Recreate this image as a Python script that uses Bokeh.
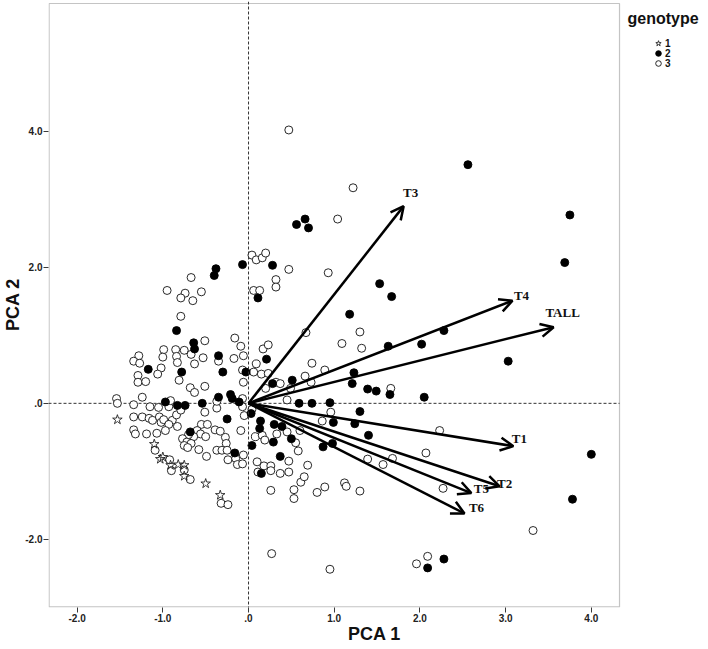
from bokeh.plotting import figure
from bokeh.models import (ColumnDataSource, Range1d, FixedTicker, CustomJSTickFormatter,
                          Span, Arrow, OpenHead, Legend, LegendItem, BoxAnnotation, Label)
from bokeh.core.properties import value
from bokeh.embed import file_html
from bokeh.resources import INLINE

# ---------------- data ----------------
x_ticks = [-2.0, -1.0, 0.0, 1.0, 2.0, 3.0, 4.0]
y_ticks = [-2.0, 0.0, 2.0, 4.0]
genotypes = ["1", "2", "3"]

g1_x = [-1.53, -1.10, -1.03, -1.00, -0.91, -0.82, -0.75, -0.75, -0.50, -0.33]
g1_y = [-0.24, -0.60, -0.82, -0.79, -0.91, -0.90, -0.91, -1.07, -1.18, -1.35]

g2_x = [-0.38, -0.40, -0.07, 0.11, -0.84, -0.64, -0.63, -0.35, -1.17, -0.78, -0.30, -0.03,
        -0.97, -0.83, -0.74, -0.54, -0.35, -0.21, -0.19, -0.11, -0.25, -0.68, 0.04, -0.16,
        0.56, 0.66, 0.70, 0.28, 1.53, 1.67, 2.56, 3.75, 3.69, 2.28, 2.02, 3.03, 2.05, 4.00,
        3.78, 2.28, 2.09, 1.18, 1.63, 0.21, 1.23, 1.21, 0.51, 0.28, 1.39, 1.49, 1.65, 0.59,
        0.74, 0.95, 1.30, 0.03, 0.14, 0.13, 0.30, 0.39, 0.99, 1.24, 1.40, 0.50, 0.29, 0.87,
        0.98, 0.37, 0.15]
g2_y = [1.98, 1.88, 2.04, 1.55, 1.07, 0.89, 0.80, 0.70, 0.50, 0.46, 0.46, 0.46,
        0.02, -0.03, -0.03, 0.00, 0.09, 0.13, 0.07, 0.02, -0.23, -0.42, -0.62, -0.73,
        2.63, 2.71, 2.58, 2.03, 1.76, 1.57, 3.51, 2.77, 2.07, 1.07, 0.87, 0.62, 0.09, -0.75,
        -1.41, -2.29, -2.42, 1.31, 0.84, 0.65, 0.45, 0.29, 0.34, 0.29, 0.21, 0.18, 0.13, 0.00,
        0.00, 0.01, -0.12, -0.15, -0.26, -0.37, -0.31, -0.34, -0.28, -0.30, -0.47, -0.52, -0.57, -0.64,
        -0.59, -0.78, -1.03]

g3_x = [0.04, 0.09, -0.67, -0.95, -0.74, -0.79, -0.65, -0.55, 0.06, -0.79, -0.51, -0.16,
        -0.09, -0.99, -1.00, -0.85, -0.75, -0.67, -0.84, -0.83, -0.63, -0.53, -0.17, -0.06,
        -1.28, -1.34, -1.27, -0.35, -1.02, -1.29, -1.29, -1.20, -1.06, -0.81, -0.68, -0.63,
        -0.51, -0.06, -1.54, -1.53, -1.34, -1.24, -1.15, -1.05, -0.93, -0.91, -0.51, -0.37,
        -0.37, -1.34, -1.24, -1.16, -1.12, -1.04, -1.02, -0.99, -0.89, -0.84, -0.79, -0.93,
        -0.83, -0.97, -1.34, -1.32, -1.19, -1.07, -0.55, -0.48, -0.39, -0.33, -0.60, -0.56,
        -0.50, -0.64, -0.70, -0.77, -0.72, -0.67, -0.58, -0.75, -0.71, -0.27, -0.26, -0.37,
        -0.31, -0.25, -0.09, -1.09, -0.49, -0.06, -0.24, -0.15, -0.13, -0.92, -0.90, -0.75,
        -0.68, -0.32, -0.24, 0.10, 0.11, 0.47, 1.22, 1.04, 0.16, 0.20, 0.47, 0.93,
        0.32, 0.32, 0.13, 2.23, 2.07, 2.27, 3.32, 2.09, 1.96, 0.67, 1.30, 1.09,
        1.32, 0.17, 0.23, 0.09, 0.74, -0.07, 0.06, 0.15, 0.23, 0.66, 0.89, 0.32,
        0.37, 0.73, 0.20, 0.49, 1.66, 0.45, -0.07, -0.07, 0.04, 0.96, 0.86, -0.05,
        0.08, 0.16, 0.19, 0.33, 0.45, 0.60, 0.55, 0.58, -0.07, 0.18, 0.26, 0.26,
        0.47, 0.69, 0.37, 0.47, 0.61, 0.65, 0.26, 0.53, 0.80, 0.89, 1.12, 1.14,
        1.30, 1.39, 1.57, 1.68, 0.53, 0.27, 0.95]
g3_y = [2.18, 2.11, 1.85, 1.66, 1.62, 1.55, 1.51, 1.64, 1.66, 1.28, 0.92, 0.96,
        0.84, 0.79, 0.68, 0.79, 0.78, 0.72, 0.69, 0.60, 0.58, 0.67, 0.66, 0.70,
        0.70, 0.62, 0.59, 0.62, 0.52, 0.41, 0.31, 0.32, 0.43, 0.34, 0.23, 0.16,
        0.25, 0.31, 0.07, 0.00, -0.02, 0.09, -0.05, -0.06, -0.05, 0.04, -0.13, -0.07,
        0.03, -0.20, -0.20, -0.22, -0.25, -0.20, -0.28, -0.24, -0.25, -0.17, -0.10, -0.31,
        -0.34, -0.40, -0.39, -0.45, -0.45, -0.44, -0.31, -0.31, -0.39, -0.41, -0.40, -0.45,
        -0.49, -0.49, -0.46, -0.52, -0.57, -0.59, -0.68, -0.62, -0.65, -0.50, -0.59, -0.69,
        -0.69, -0.69, -0.40, -0.69, -0.78, -0.76, -0.83, -0.81, -0.90, -0.83, -0.99, -0.98,
        -1.12, -1.47, -1.49, -0.86, -1.01, 4.02, 3.17, 2.71, 2.14, 2.21, 1.97, 1.92,
        1.82, 1.71, 1.66, -0.40, -0.73, -1.25, -1.87, -2.25, -2.36, 1.04, 1.05, 0.88,
        0.81, 0.80, 0.86, 0.58, 0.59, 0.49, 0.46, 0.43, 0.44, 0.40, 0.49, 0.31,
        0.29, 0.31, 0.22, 0.22, 0.22, 0.05, 0.07, -0.05, -0.09, -0.13, -0.26, -0.18,
        -0.49, -0.47, -0.54, -0.45, -0.42, -0.40, -0.58, -0.70, -0.89, -0.92, -0.92, -0.99,
        -0.85, -0.91, -1.03, -1.01, -1.16, -1.08, -1.28, -1.27, -1.31, -1.23, -1.17, -1.22,
        -1.29, -0.82, -0.90, -0.81, -1.40, -2.21, -2.44]

load_names = ["T1", "T2", "T3", "T4", "T5", "T6", "TALL"]
load_x = [3.09, 2.93, 1.81, 3.08, 2.60, 2.52, 3.56]
load_y = [-0.63, -1.22, 2.90, 1.51, -1.32, -1.62, 1.12]

# axis box limits (data units)
X_LO, X_HI = -2.334, 4.329
Y_LO, Y_HI = -3.0, 5.88

# ---------------- styles / layout constants ----------------
lab_dx = [6, 5, 7, 9, 10, 12, 9]       # label nudges (px)
lab_dy = [-8, -3, -14, -5, -5, -6, -15]
PX_X = 85.7                             # px per x unit
PX_Y = 68.0                             # px per y unit
FRAME_W = 652                           # axis box + room for the legend
FRAME_H = 606

STYLES = [dict(marker="star", size=10, fill_color=None, line_color="#222222", line_width=0.9),
          dict(marker="circle", size=8, fill_color="black", line_color="black", line_width=0.9),
          dict(marker="circle", size=8, fill_color="white", line_color="#111111", line_width=0.9)]

x_end = X_LO + FRAME_W / PX_X
y_top = Y_HI + 2.0 / PX_Y
y_bot = y_top - FRAME_H / PX_Y

p = figure(frame_width=FRAME_W, frame_height=FRAME_H,
           x_range=Range1d(X_LO, x_end), y_range=Range1d(y_bot, y_top),
           output_backend="svg", toolbar_location=None,
           min_border_top=1, min_border_left=0, min_border_right=0, min_border_bottom=0,
           background_fill_color="white", border_fill_color="white")
p.grid.visible = False
p.outline_line_color = None

fmt = CustomJSTickFormatter(code="return Math.abs(tick) < 1e-9 ? '.0' : tick.toFixed(1);")
p.xaxis.ticker = FixedTicker(ticks=x_ticks)
p.yaxis.ticker = FixedTicker(ticks=y_ticks)
for ax in (p.xaxis, p.yaxis):
    ax.formatter = fmt
    ax.axis_line_color = None
    ax.major_tick_out = 5
    ax.major_tick_in = 0
    ax.minor_tick_out = 0
    ax.minor_tick_in = 0
    ax.major_tick_line_color = "#3a3a3a"
    ax.major_label_text_font = "Liberation Sans"
    ax.major_label_text_font_style = "bold"
    ax.major_label_text_font_size = "10px"
    ax.major_label_text_color = "#222222"
    ax.major_label_standoff = 1
    ax.axis_label_text_font = "Liberation Sans"
    ax.axis_label_text_font_style = "bold"
    ax.axis_label_text_font_size = "18px"
    ax.axis_label_text_color = "#111111"
p.xaxis.axis_label_standoff = -1
p.yaxis.axis_label_standoff = -1
p.xaxis.axis_label = "PCA 1"
p.yaxis.axis_label = "PCA 2"

# axis box
p.add_layout(BoxAnnotation(left=X_LO + 0.6 / PX_X, right=X_HI, bottom=y_bot + 0.6 / PX_Y,
                           top=Y_HI, fill_alpha=0, line_color="#3a3a3a", line_width=1.2,
                           level="underlay"))

# reference lines
p.add_layout(Span(location=0, dimension="height", line_color="#333333",
                  line_width=1, line_dash="3 2"))
p.segment(x0=[X_LO], y0=[0.0], x1=[X_HI], y1=[0.0], line_color="#333333",
          line_width=1, line_dash="3 2")

# points
r3 = p.scatter(g3_x, g3_y, **STYLES[2])
r2 = p.scatter(g2_x, g2_y, **STYLES[1])
r1 = p.scatter(g1_x, g1_y, **STYLES[0])

# loading vectors
src = ColumnDataSource(dict(x=load_x, y=load_y, name=load_names,
                            dx=lab_dx, dy=lab_dy, x0=[0.0] * len(load_x), y0=[0.0] * len(load_x)))
p.add_layout(Arrow(end=OpenHead(size=13, line_width=2.5, line_color="black"),
                   x_start="x0", y_start="y0", x_end="x", y_end="y", source=src,
                   line_width=2.5, line_color="black"))
p.text(x="x", y="y", text="name", source=src, x_offset="dx", y_offset="dy",
       text_font=value("Liberation Serif"), text_font_style="bold",
       text_font_size="13px", text_align="center", text_baseline="middle",
       text_color="#111111")

# ---------------- legend ----------------
box_right_px = (X_HI - X_LO) * PX_X          # frame px of axis box right edge
p.add_layout(Label(x=X_HI + 8 / PX_X, y=y_top - 16.5 / PX_Y, text="genotype",
                   text_font="Liberation Sans", text_font_style="bold",
                   text_font_size="16px", text_color="#111111",
                   text_align="left", text_baseline="middle"))
row_centers = [42, 52, 62]                    # px below the frame top
for lab, rr, rc in zip(genotypes, [r1, r2, r3], row_centers):
    lg = Legend(items=[LegendItem(label=lab, renderers=[rr])],
                location=(box_right_px + 32, FRAME_H - rc - 7))
    lg.label_text_font = "Liberation Sans"
    lg.label_text_font_style = "bold"
    lg.label_text_font_size = "10px"
    lg.label_text_color = "#111111"
    lg.glyph_width = 14
    lg.glyph_height = 14
    lg.label_height = 14
    lg.label_standoff = 0
    lg.padding = 0
    lg.margin = 0
    lg.border_line_color = None
    lg.background_fill_alpha = 0
    p.add_layout(lg, "center")

open("out.html", "w").write(file_html(p, INLINE))
